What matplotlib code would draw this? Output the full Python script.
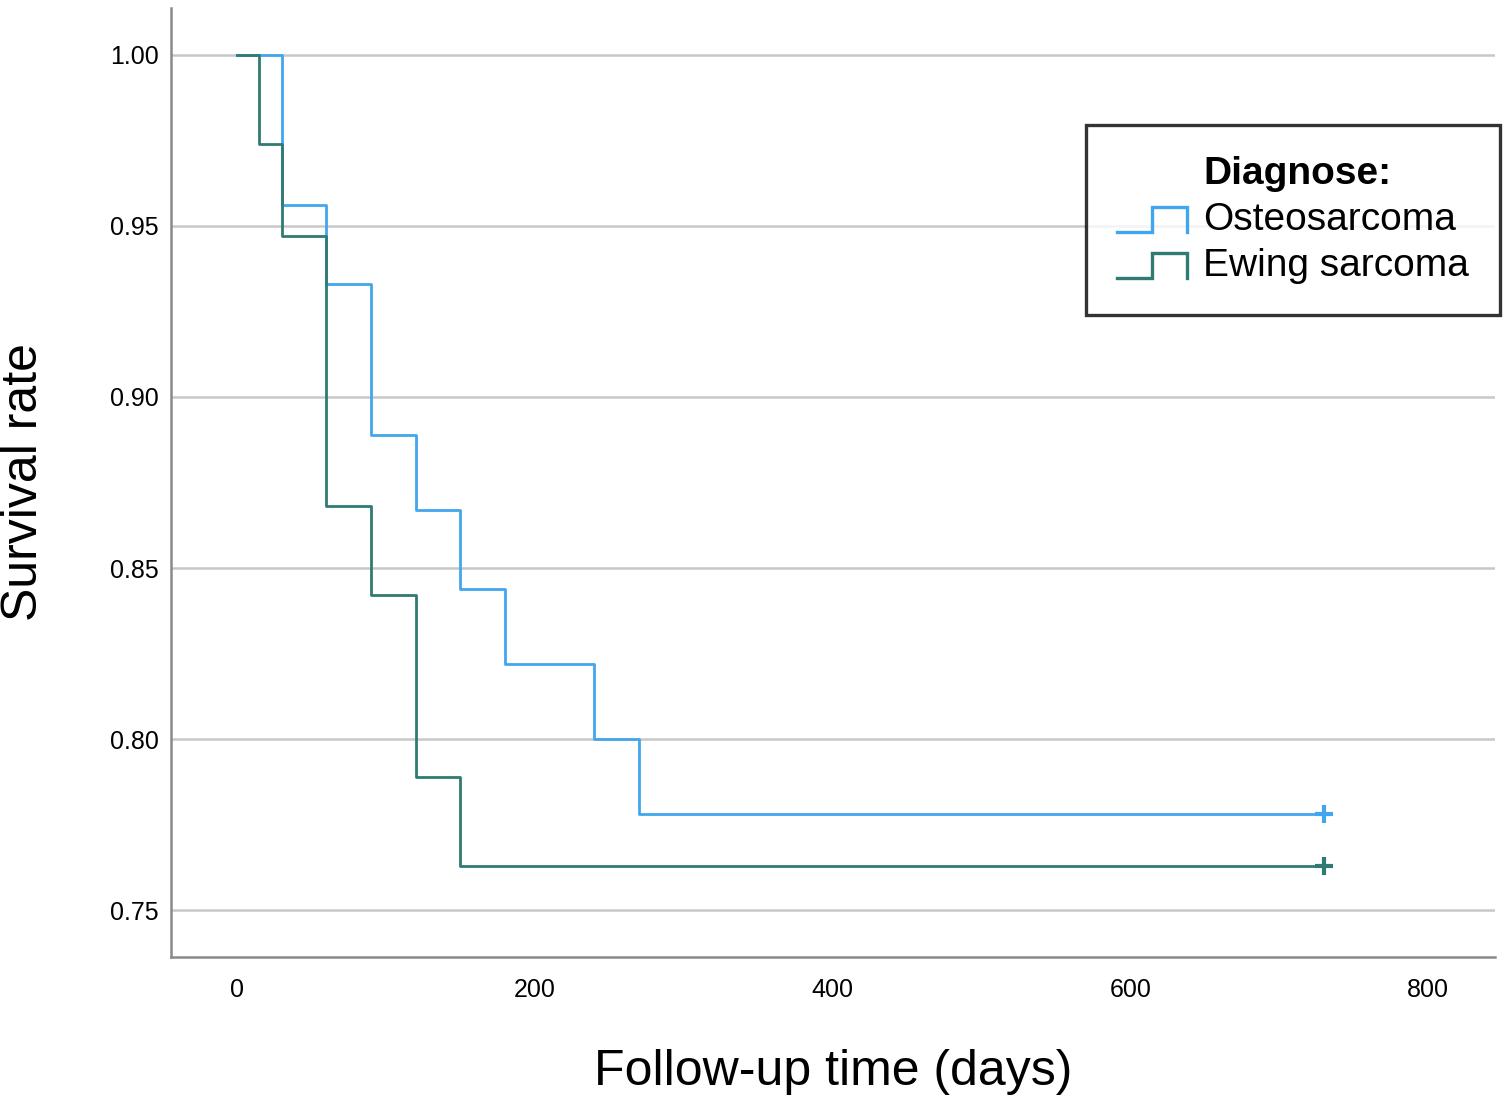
import matplotlib
matplotlib.use('Agg')
import matplotlib.pyplot as plt
from matplotlib.lines import Line2D
from matplotlib.legend_handler import HandlerBase

plt.rcParams['font.family'] = ['Liberation Sans', 'DejaVu Sans']

# Kaplan-Meier steps (days, survival)
osteo_times = [0, 30, 60, 90, 120, 150, 180, 240, 270, 730]
osteo_surv = [1.000, 0.956, 0.933, 0.889, 0.867, 0.844, 0.822, 0.800, 0.778, 0.778]
ewing_times = [0, 15, 30, 60, 90, 120, 150, 730]
ewing_surv = [1.000, 0.974, 0.947, 0.868, 0.842, 0.789, 0.763, 0.763]

series_names = ['Osteosarcoma', 'Ewing sarcoma']
yticks = [0.75, 0.80, 0.85, 0.90, 0.95, 1.00]
xticks = [0, 200, 400, 600, 800]

c_osteo = '#42a6ee'
c_ewing = '#2f7b72'


class HandlerStep(HandlerBase):
    # step-shaped legend key like SPSS
    def create_artists(self, legend, orig, xd, yd, w, h, fontsize, trans):
        y0 = yd
        y1 = yd + h
        xm = xd + w * 0.5
        xs = [xd, xm, xm, xd + w, xd + w]
        ys = [y0, y0, y1, y1, y0]
        ln = Line2D(xs, ys, color=orig.get_color(), lw=orig.get_linewidth() + 0.4,
                    solid_joinstyle='miter')
        ln.set_transform(trans)
        return [ln]


fig = plt.figure(figsize=(15.08, 11.0), dpi=100)
ax = fig.add_axes([0.1134, 0.13, 0.8780, 0.8627])

l1, = ax.step(osteo_times, osteo_surv, where='post', color=c_osteo, lw=2.0)
l2, = ax.step(ewing_times, ewing_surv, where='post', color=c_ewing, lw=2.0)
ax.plot(osteo_times[-1], osteo_surv[-1], '+', color=c_osteo, ms=13, mew=3)
ax.plot(ewing_times[-1], ewing_surv[-1], '+', color=c_ewing, ms=13, mew=3)

ax.set_xlim(-44.3, 845)
ax.set_ylim(0.7363, 1.0137)
ax.set_xticks(xticks)
ax.set_yticks(yticks)
ax.set_yticklabels([f'{v:.2f}' for v in yticks])
ax.tick_params(length=0, labelsize=18)
ax.tick_params(axis='y', pad=9)
ax.tick_params(axis='x', pad=15)

ax.grid(axis='y', color='#c8c8c8', lw=1.8)
ax.set_axisbelow(True)
for s in ['top', 'right']:
    ax.spines[s].set_visible(False)
for s in ['left', 'bottom']:
    ax.spines[s].set_color('#8a8a8a')
    ax.spines[s].set_linewidth(1.8)

ax.set_xlabel('Follow-up time (days)', fontsize=36, labelpad=34)
ax.set_ylabel('Survival rate', fontsize=36, labelpad=45)

title_h = Line2D([], [], color='none')
leg = ax.legend([title_h, l1, l2], ['Diagnose:'] + series_names,
                handler_map={l1: HandlerStep(), l2: HandlerStep()},
                loc='upper right', bbox_to_anchor=(0.9947, 0.8864),
                bbox_transform=fig.transFigure, borderaxespad=0,
                fontsize=28, frameon=True, fancybox=False,
                handlelength=1.8, handletextpad=0.4, labelspacing=0.26,
                borderpad=0.8, handleheight=0.6)
leg.get_frame().set_edgecolor('black')
leg.get_frame().set_linewidth(2.4)
leg.get_texts()[0].set_fontweight('bold')

fig.savefig('out.png', dpi=100)
